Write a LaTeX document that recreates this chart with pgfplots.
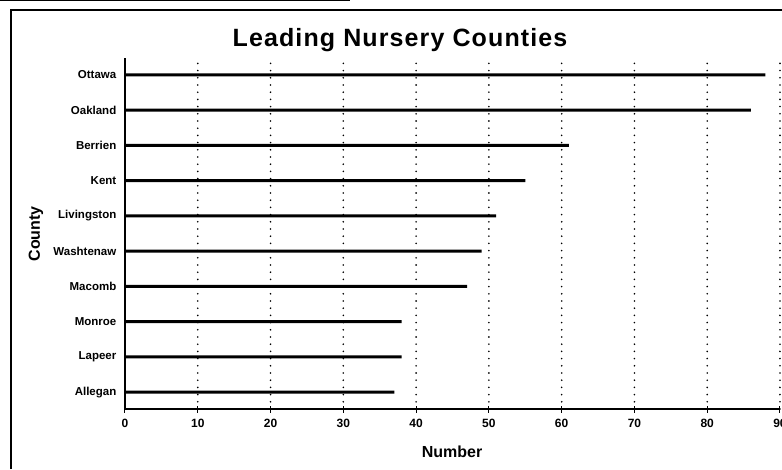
\documentclass[border=0pt]{standalone}
\usepackage{pgfplots}
\pgfplotsset{compat=1.18}
\usepackage{fontspec}
\setmainfont{Liberation Sans}
\pgfplotstableread{
y val
0 37
1 38
2 38
3 47
4 49
5 51
6 55
7 61
8 86
9 88
}\countydata
\begin{document}
\begin{tikzpicture}[x=1pt,y=1pt]
\path[use as bounding box] (0,0) rectangle (782,469);
\draw[line width=1.3pt] (11,0) -- (11,459) -- (782,459);
\draw[line width=0.8pt] (0,468.6) -- (350,468.6);
\begin{axis}[
  at={(125pt,60pt)}, anchor=south west, scale only axis,
  width=655pt, height=351pt,
  xmin=0, xmax=90, ymin=-0.48, ymax=9.48,
  axis x line=bottom, axis y line=left,
  axis line style={-, line width=1.2pt, black},
  xtick={0,10,...,90},
  ytick={0,...,9},
  yticklabels={Allegan,Lapeer,Monroe,Macomb,Washtenaw,Livingston,Kent,Berrien,Oakland,Ottawa},
  xmajorgrids, ymajorgrids=false,
  grid style={black, line width=1.8pt, line cap=round, dash pattern=on 0pt off 7.2pt},
  xtick style={black, line width=1pt},
  tick align=center, major tick length=7pt,
  ytick style={draw=none},
  /pgf/number format/assume math mode=true,
  xticklabel style={font=\bfseries\fontsize{12}{14}\selectfont, inner sep=0pt, yshift=-6pt},
  yticklabel style={font=\bfseries\fontsize{11.5}{13}\selectfont, inner sep=0pt, xshift=-5pt},
  clip=false,
]
\addplot[xbar, bar width=3pt, fill=black, draw=none] table[x=val, y=y] {\countydata};
\end{axis}
\node[font=\bfseries\fontsize{25}{30}\selectfont\addfontfeature{LetterSpace=4.5}] at (400,429) {Leading Nursery Counties};
\node[font=\bfseries\fontsize{16}{19}\selectfont] at (452,17) {Number};
\node[font=\bfseries\fontsize{16}{19}\selectfont, rotate=90] at (36,235) {County};
\end{tikzpicture}
\end{document}
